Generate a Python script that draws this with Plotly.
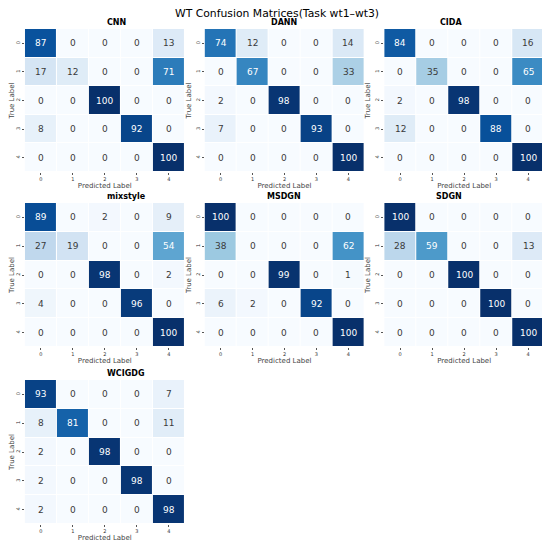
import plotly.graph_objects as go
import plotly.express as px

labels = ["0", "1", "2", "3", "4"]

names = ["CNN", "DANN", "CIDA", "mixstyle", "MSDGN", "SDGN", "WCIGDG"]

cnn = [[87, 0, 0, 0, 13],
       [17, 12, 0, 0, 71],
       [0, 0, 100, 0, 0],
       [8, 0, 0, 92, 0],
       [0, 0, 0, 0, 100]]
dann = [[74, 12, 0, 0, 14],
        [0, 67, 0, 0, 33],
        [2, 0, 98, 0, 0],
        [7, 0, 0, 93, 0],
        [0, 0, 0, 0, 100]]
cida = [[84, 0, 0, 0, 16],
        [0, 35, 0, 0, 65],
        [2, 0, 98, 0, 0],
        [12, 0, 0, 88, 0],
        [0, 0, 0, 0, 100]]
mixstyle = [[89, 0, 2, 0, 9],
            [27, 19, 0, 0, 54],
            [0, 0, 98, 0, 2],
            [4, 0, 0, 96, 0],
            [0, 0, 0, 0, 100]]
msdgn = [[100, 0, 0, 0, 0],
         [38, 0, 0, 0, 62],
         [0, 0, 99, 0, 1],
         [6, 2, 0, 92, 0],
         [0, 0, 0, 0, 100]]
sdgn = [[100, 0, 0, 0, 0],
        [28, 59, 0, 0, 13],
        [0, 0, 100, 0, 0],
        [0, 0, 0, 100, 0],
        [0, 0, 0, 0, 100]]
wcigdg = [[93, 0, 0, 0, 7],
          [8, 81, 0, 0, 11],
          [2, 0, 98, 0, 0],
          [2, 0, 0, 98, 0],
          [2, 0, 0, 0, 98]]

matrices = [cnn, dann, cida, mixstyle, msdgn, sdgn, wcigdg]

# the page body has an 8px margin, so the figure is drawn 8px in from the corner
OFF = 8
W, H = 550 - OFF, 544 - OFF
col_px = [(21, 182), (202, 363), (383, 544)]
row_px = [(29, 172), (203, 347), (380, 524)]

blues = px.colors.sequential.Blues
scale = [[i / (len(blues) - 1), c] for i, c in enumerate(blues)]

fig = go.Figure()
annotations = []

for i, (name, m) in enumerate(zip(names, matrices)):
    r, c = divmod(i, 3)
    n = i + 1
    xa = "x" if n == 1 else "x%d" % n
    ya = "y" if n == 1 else "y%d" % n

    # seaborn-like contrast for annotations
    txtcol = [["white" if v > 45 else "#3a3a3a" for v in row] for row in m]

    fig.add_trace(go.Heatmap(
        z=m, x=labels, y=labels, xaxis=xa, yaxis=ya,
        colorscale=scale, zmin=0, zmax=100, showscale=False,
        xgap=1, ygap=1, hoverinfo="z"))

    for yi, row in enumerate(m):
        for xi, v in enumerate(row):
            annotations.append(dict(
                x=labels[xi], y=labels[yi], xref=xa, yref=ya,
                text=str(v), showarrow=False,
                font=dict(size=9, color=txtcol[yi][xi], family="DejaVu Sans")))

    x0, x1 = col_px[c]
    y0, y1 = row_px[r]
    dx = [(x0 - OFF) / W, min(1, (x1 - OFF) / W)]
    dy = [1 - (y1 - OFF) / H, 1 - (y0 - OFF) / H]
    axis_font = dict(size=5, color="#333", family="DejaVu Sans")
    fig.layout["xaxis" if n == 1 else "xaxis%d" % n] = dict(
        domain=dx, anchor=ya, ticks="outside", ticklen=2, tickcolor="#555",
        tickfont=axis_font, showgrid=False, zeroline=False, showline=False,
        title=dict(text="Predicted Label", standoff=2,
                   font=dict(size=7, color="#444", family="DejaVu Sans")))
    fig.layout["yaxis" if n == 1 else "yaxis%d" % n] = dict(
        domain=dy, anchor=xa, autorange="reversed", ticks="outside",
        ticklen=2, tickcolor="#555", tickangle=-90, tickfont=axis_font,
        showgrid=False, zeroline=False, showline=False,
        title=dict(text="True Label", standoff=2,
                   font=dict(size=7, color="#444", family="DejaVu Sans")))

    annotations.append(dict(
        x=(dx[0] + dx[1]) / 2, y=dy[1], xref="paper", yref="paper",
        yanchor="bottom", yshift=0, text="<b>%s</b>" % name, showarrow=False,
        font=dict(size=8, color="black", family="DejaVu Sans")))

fig.update_layout(
    width=W, height=H,
    margin=dict(l=0, r=0, t=0, b=0),
    paper_bgcolor="white", plot_bgcolor="white",
    title=dict(text="WT Confusion Matrices(Task wt1\u2013wt3)",
               x=(275 - OFF) / W, xref="paper", y=1 - 1 / H, yref="paper",
               xanchor="center", yanchor="top", pad=dict(t=0, b=0),
               font=dict(size=10.8, color="black", family="DejaVu Sans")),
    annotations=annotations,
)

fig.write_html("out.html")
